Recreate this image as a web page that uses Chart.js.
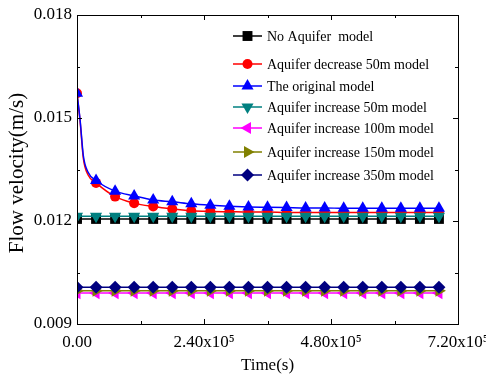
<!DOCTYPE html>
<html>
<head>
<meta charset="utf-8">
<script src="https://cdn.jsdelivr.net/npm/chart.js@4.4.1/dist/chart.umd.min.js"></script>
<style>
  html, body { margin: 0; padding: 0; background: #fff; }
  #wrap { width: 486px; height: 378px; }
</style>
</head>
<body>
<div id="wrap"><canvas id="chart"></canvas></div>
<script>
// time (s) of the decaying runs, incl. the first few samples before the first marker
const timeFine = [0, 6000, 12000, 21000, 36000, 72000, 108000, 144000, 180000, 216000, 252000, 288000,
    324000, 360000, 396000, 432000, 468000, 504000, 540000, 576000, 612000, 648000, 684000];
// time (s) of the flat runs (marker positions)
const timeMark = [0, 36000, 72000, 108000, 144000, 180000, 216000, 252000, 288000, 324000,
    360000, 396000, 432000, 468000, 504000, 540000, 576000, 612000, 648000, 684000];

const noAquifer = [0.01206, 0.01206, 0.01206, 0.01206, 0.01206, 0.01206, 0.01206, 0.01206, 0.01206, 0.01206,
    0.01206, 0.01206, 0.01206, 0.01206, 0.01206, 0.01206, 0.01206, 0.01206, 0.01206, 0.01206];
const decrease50 = [0.01572, 0.01488, 0.01382, 0.01334, 0.01311, 0.01271, 0.01252, 0.01242, 0.01235, 0.01230,
    0.01228, 0.01227, 0.01226, 0.01226, 0.01225, 0.01225, 0.01225, 0.01225, 0.01225, 0.01225, 0.01225, 0.01225, 0.01225];
const original = [0.01572, 0.01492, 0.01390, 0.01342, 0.01318, 0.01287, 0.01273, 0.01261, 0.01256, 0.01250,
    0.01246, 0.01243, 0.01241, 0.01240, 0.01239, 0.01238, 0.01238, 0.01237, 0.01237, 0.01237, 0.01237, 0.01237, 0.01237];
const increase50 = [0.01214, 0.01214, 0.01214, 0.01214, 0.01214, 0.01214, 0.01214, 0.01214, 0.01214, 0.01214,
    0.01214, 0.01214, 0.01214, 0.01214, 0.01214, 0.01214, 0.01214, 0.01214, 0.01214, 0.01214];
const increase100 = [0.00990, 0.00990, 0.00990, 0.00990, 0.00990, 0.00990, 0.00990, 0.00990, 0.00990, 0.00990,
    0.00990, 0.00990, 0.00990, 0.00990, 0.00990, 0.00990, 0.00990, 0.00990, 0.00990, 0.00990];
const increase150 = [0.00997, 0.00997, 0.00997, 0.00997, 0.00997, 0.00997, 0.00997, 0.00997, 0.00997, 0.00997,
    0.00997, 0.00997, 0.00997, 0.00997, 0.00997, 0.00997, 0.00997, 0.00997, 0.00997, 0.00997];
const increase350 = [0.01007, 0.01007, 0.01007, 0.01007, 0.01007, 0.01007, 0.01007, 0.01007, 0.01007, 0.01007,
    0.01007, 0.01007, 0.01007, 0.01007, 0.01007, 0.01007, 0.01007, 0.01007, 0.01007, 0.01007];

const seriesNames = ['No Aquifer  model', 'Aquifer decrease 50m model', 'The original model',
    'Aquifer increase 50m model', 'Aquifer increase 100m model', 'Aquifer increase 150m model',
    'Aquifer increase 350m model'];

const yTicks = [0.009, 0.012, 0.015, 0.018];
const xTicks = [0, 240000, 480000, 720000];

const FONT = '"Liberation Serif", "Times New Roman", serif';
const MARK_STEP = 36000;

function pairs(xs, ys) {
    return xs.map((x, i) => ({ x: x, y: ys[i] }));
}

// marker look per series (legend uses the same)
const styles = [
    { color: '#000000', pointStyle: 'rect', radius: 7, rotation: 0 },
    { color: '#ff0000', pointStyle: 'circle', radius: 5, rotation: 0 },
    { color: '#0000ff', pointStyle: 'triangle', radius: 7, rotation: 0 },
    { color: '#008080', pointStyle: 'triangle', radius: 7, rotation: 180 },
    { color: '#ff00ff', pointStyle: 'triangle', radius: 7, rotation: 270 },
    { color: '#808000', pointStyle: 'triangle', radius: 7, rotation: 90 },
    { color: '#000080', pointStyle: 'rectRot', radius: 6.5, rotation: 0 }
];

const seriesData = [
    pairs(timeMark, noAquifer),
    pairs(timeFine, decrease50),
    pairs(timeFine, original),
    pairs(timeMark, increase50),
    pairs(timeMark, increase100),
    pairs(timeMark, increase150),
    pairs(timeMark, increase350)
];

const datasets = seriesData.map((data, i) => {
    const s = styles[i];
    return {
        label: seriesNames[i],
        data: data,
        borderColor: s.color,
        backgroundColor: s.color,
        borderWidth: 1.5,
        pointStyle: s.pointStyle,
        pointRotation: s.rotation,
        pointRadius: ctx => (ctx.raw && ctx.raw.x % MARK_STEP === 0 ? s.radius : 0),
        pointBorderWidth: 0,
        cubicInterpolationMode: 'monotone',
        order: seriesNames.length - i
    };
});

const isMajorY = v => yTicks.some(t => Math.abs(t - v) < 1e-7);
const isMajorX = v => xTicks.some(t => Math.abs(t - v) < 1);

const framePlugin = {
    id: 'frame',
    afterDraw(chart) {
        const ctx = chart.ctx;
        const a = chart.chartArea;
        const xs = chart.scales.x, ys = chart.scales.y;
        ctx.save();
        ctx.strokeStyle = '#000';
        ctx.lineWidth = 1;
        ctx.strokeRect(Math.round(a.left) + 0.5, Math.round(a.top) + 0.5,
            Math.round(a.right - a.left), Math.round(a.bottom - a.top));
        // inward ticks on all four sides
        ctx.beginPath();
        ys.ticks.forEach(t => {
            const y = Math.round(ys.getPixelForValue(t.value)) + 0.5;
            const len = isMajorY(t.value) ? 5 : 3;
            ctx.moveTo(a.left, y); ctx.lineTo(a.left + len, y);
            ctx.moveTo(a.right, y); ctx.lineTo(a.right - len, y);
        });
        xs.ticks.forEach(t => {
            const x = Math.round(xs.getPixelForValue(t.value)) + 0.5;
            const len = isMajorX(t.value) ? 5 : 3;
            ctx.moveTo(x, a.bottom); ctx.lineTo(x, a.bottom - len);
            ctx.moveTo(x, a.top); ctx.lineTo(x, a.top + len);
        });
        ctx.stroke();

        // axis titles
        ctx.fillStyle = '#000';
        ctx.textAlign = 'center';
        ctx.textBaseline = 'middle';
        ctx.font = '17px ' + FONT;
        ctx.fillText('Time(s)', (a.left + a.right) / 2, 366);
        ctx.save();
        ctx.translate(17, 173);
        ctx.rotate(-Math.PI / 2);
        ctx.font = '21px ' + FONT;
        ctx.fillText('Flow velocity(m/s)', 0, 0);
        ctx.restore();

        // legend inside the plot, no box
        const rowsY = [36, 64, 86, 107, 128, 152, 175];
        ctx.font = '14px ' + FONT;
        ctx.textAlign = 'left';
        seriesNames.forEach((name, i) => {
            const s = styles[i];
            const y = rowsY[i];
            ctx.strokeStyle = s.color;
            ctx.lineWidth = 1.5;
            ctx.beginPath();
            ctx.moveTo(233, y); ctx.lineTo(262, y);
            ctx.stroke();
            ctx.fillStyle = s.color;
            Chart.helpers.drawPoint(ctx, {
                pointStyle: s.pointStyle, radius: s.radius, rotation: s.rotation, borderWidth: 0
            }, 247.5, y);
            ctx.fillStyle = '#000';
            ctx.fillText(name, 267, y + 1);
        });
        ctx.restore();
    }
};

new Chart(document.getElementById('chart'), {
    type: 'line',
    data: { datasets: datasets },
    options: {
        responsive: true,
        maintainAspectRatio: false,
        animation: false,
        layout: { padding: { top: 15, right: 28, left: 0, bottom: 0 } },
        plugins: {
            legend: { display: false },
            tooltip: { enabled: false }
        },
        scales: {
            x: {
                type: 'linear',
                min: 0,
                max: 720000,
                grid: { display: false, drawTicks: false },
                border: { display: false },
                ticks: {
                    stepSize: 120000,
                    autoSkip: false,
                    maxRotation: 0,
                    padding: 8,
                    color: '#000',
                    font: { family: FONT, size: 17 },
                    callback: v => {
                        if (!isMajorX(v)) return '';
                        return v === 0 ? '0.00' : (v / 100000).toFixed(2) + 'x10\u2075';
                    }
                },
                afterFit: s => { s.height = 54; s.paddingLeft = 0; s.paddingRight = 0; }
            },
            y: {
                min: 0.009,
                max: 0.018,
                grid: { display: false, drawTicks: false },
                border: { display: false },
                ticks: {
                    stepSize: 0.0015,
                    autoSkip: false,
                    padding: 5,
                    color: '#000',
                    font: { family: FONT, size: 17 },
                    callback: v => (isMajorY(v) ? v.toFixed(3) : '')
                },
                afterFit: s => { s.width = 77; s.paddingTop = 0; s.paddingBottom = 0; }
            }
        }
    },
    plugins: [framePlugin]
});
</script>
</body>
</html>
